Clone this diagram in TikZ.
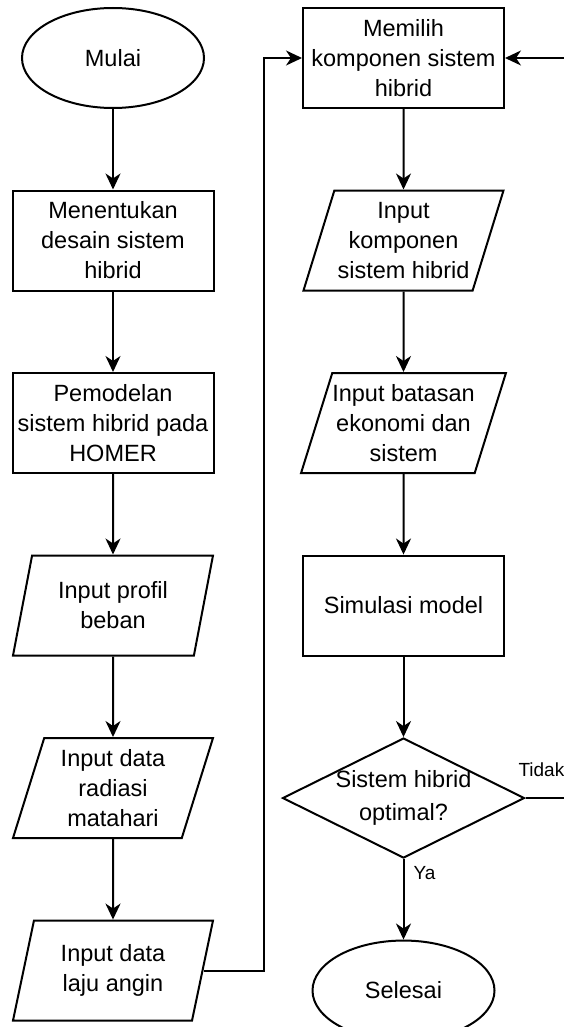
\documentclass[tikz,border=0pt]{standalone}
\usepackage{fontspec}
\setmainfont{Liberation Sans}
\usetikzlibrary{shapes,chains,positioning,arrows.meta}

\begin{document}
\begin{tikzpicture}[x=1pt,y=-1pt,line width=2pt]
        \tikzstyle{every node}=[font=\fontsize{23.5}{30}\selectfont]

        \tikzstyle{terminal}=[draw,ellipse,minimum width=182pt,minimum height=100pt,inner sep=0pt]
        \tikzstyle{process}=[draw,rectangle,minimum width=201pt,minimum height=100pt,align=center,inner sep=2pt]
        \tikzstyle{io}=[draw,trapezium,trapezium left angle=68,trapezium right angle=112,trapezium stretches body,minimum width=200pt,minimum height=100pt,align=center,inner sep=0pt]
        \tikzstyle{decision}=[draw,diamond,minimum width=242pt,minimum height=120pt,aspect=2,inner sep=0pt]
        \tikzstyle{flow}=[-{Stealth[length=16pt,width=15pt,inset=5pt]}]
        \tikzstyle{tag}=[font=\fontsize{19}{23}\selectfont,inner sep=0pt]

        \useasboundingbox (0,0) rectangle (564,1027);
        \clip (0,0) rectangle (564,1027);

        % left column
        \begin{scope}[start chain=1 going below,node distance=80.5pt]
        \node [on chain=1,terminal] at (113,58) (mulai) {Mulai};
        \node [on chain=1,process] (desain) {Menentukan\\desain sistem\\hibrid};
        \node [on chain=1,process] (model) {Pemodelan\\sistem hibrid pada\\HOMER};
        \node [on chain=1,io] (beban) {Input profil\\beban};
        \node [on chain=1,io] (radiasi) {Input data\\radiasi\\matahari};
        \node [on chain=1,io] (angin) {Input data\\laju angin};
        \end{scope}

        % right column
        \begin{scope}[start chain=2 going below,node distance=80.5pt]
        \node [on chain=2,process] at (403.5,58) (pilih) {Memilih\\komponen sistem\\hibrid};
        \node [on chain=2,io] (komponen) {Input\\komponen\\sistem hibrid};
        \node [on chain=2,io] (batasan) {Input batasan\\ekonomi dan\\sistem};
        \node [on chain=2,process] (simulasi) {Simulasi model};
        \node [on chain=2,decision] (optimal) {\makebox[0pt]{\begin{tabular}{@{}c@{}}Sistem hibrid\\[3pt]optimal?\end{tabular}}};
        \node [on chain=2,terminal] (selesai) {Selesai};
        \end{scope}

        %arrows
        \draw [flow] (mulai) -- (desain);
        \draw [flow] (desain) -- (model);
        \draw [flow] (model) -- (beban);
        \draw [flow] (beban) -- (radiasi);
        \draw [flow] (radiasi) -- (angin);
        \draw [flow] (angin.east) -- ++(60,0) |- (pilih.west);
        \draw [flow] (pilih) -- (komponen);
        \draw [flow] (komponen) -- (batasan);
        \draw [flow] (batasan) -- (simulasi);
        \draw [flow] (simulasi) -- (optimal);
        \draw [flow] (optimal) -- (selesai);
        \draw [flow] (optimal.east) -- ++(60,0) |- (pilih.east);

        \node [tag,anchor=west] at ([xshift=-8pt,yshift=28pt]optimal.east) (tidak) {Tidak};
        \node [tag,anchor=west] at ([xshift=9pt,yshift=-14pt]optimal.south) (ya) {Ya};
\end{tikzpicture}
\end{document}
